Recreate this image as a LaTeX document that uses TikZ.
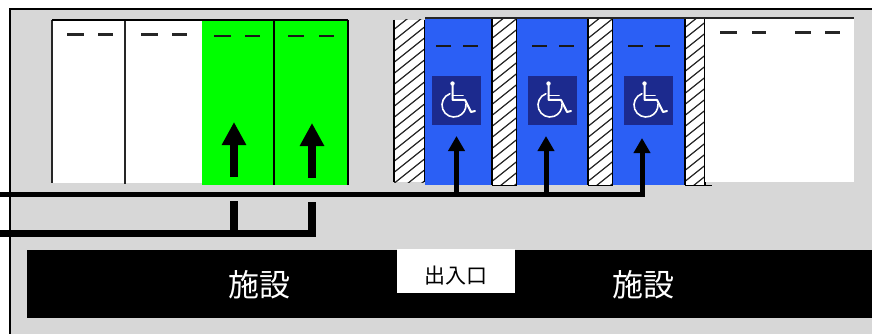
\documentclass[tikz,border=0pt]{standalone}
\usepackage{fontspec}
\newfontfamily\cjk{Noto Sans CJK JP}
\usetikzlibrary{arrows.meta}
\definecolor{bggray}{HTML}{D7D7D7}
\definecolor{pgreen}{HTML}{00FF00}
\definecolor{pblue}{HTML}{2B5FF5}
\definecolor{signblue}{HTML}{1C2A8E}
\tikzset{
  x=1pt,y=-1pt,
  bay/.style={rectangle,inner sep=0pt,outer sep=0pt,anchor=north west},
  divider/.style={line width=1.5pt,black!85},
  bigarrow/.style={line width=8pt,black,-{Triangle[length=23pt,width=23pt]}},
  smallarrow/.style={line width=5pt,black,-{Triangle[length=15pt,width=16pt]}},
  feed/.style={line width=5pt,black},
  feedb/.style={line width=7pt,black},
  drop/.style={line width=8pt,black},
  chairline/.style={white,line width=1.6pt,line cap=round,line join=round},
}
\newcommand{\baybox}[6]{\node[bay,fill=#6,minimum width=#4pt-#2pt,minimum height=#5pt-#3pt] (#1) at (#2,#3) {};}
\newcommand{\hatchbox}[5]{%
  \node[bay,fill=white,minimum width=#4pt-#2pt,minimum height=#5pt-#3pt] (#1) at (#2,#3) {};
  \begin{scope}
    \clip (#2,#3) rectangle (#4,#5);
    \foreach \k in {-6,...,18}{
      \draw[black!85,line width=1.2pt] (#2-2,#3+\k*11) -- (#2+38,#3+\k*11-32);
    }
  \end{scope}
  \draw[black,line width=1.6pt] (#2,#3) -- (#2,#5) (#4,#3) -- (#4,#5);
}
\newcommand{\chair}[2]{%
  \node[bay,fill=signblue,minimum width=49pt,minimum height=49pt] (#1) at (#2,76) {};
  \begin{scope}[shift={(#2,76)}]
    \fill[white] (20.5,7.5) circle (2.2);
    \draw[chairline,line width=2pt] (20.5,8) -- (20.5,24) -- (33,24) -- (39,36) -- (43,35);
    \draw[chairline] (20.5,19.5) -- (31,19.5);
    \draw[chairline] (22,29) ++(250:12) arc[start angle=250,end angle=-5,radius=12];
  \end{scope}
}
\begin{document}
\begin{tikzpicture}
\useasboundingbox (0,0) rectangle (872,334);
\fill[white] (0,0) rectangle (872,334);
\fill[bggray] (10,9) rectangle (872,334);
\draw[black,line width=1.2pt] (872,9) -- (10,9) -- (10,334);

% left white and green bays
\baybox{wa}{52}{20}{125}{183}{white}
\baybox{wb}{125}{20}{202}{183}{white}
\baybox{ga}{202}{20}{274}{185}{pgreen}
\baybox{gb}{274}{20}{348}{185}{pgreen}
\draw[divider] (52,20) -- (52,183);
\draw[divider] (125,20) -- (125,184);
\draw[black,line width=1.5pt] (274,20) -- (274,185);
\draw[black,line width=1.2pt] (348,20) -- (348,185);
\draw[black,line width=1.8pt] (52,20) -- (348,20);
\foreach \a/\b in {67/84,98/113,141/158,172/187}
  \draw[black!85,line width=3pt] (\a,35) -- (\b,35);
\foreach \a/\b in {214/231,245/260,288/304,319/334}
  \draw[black!90,line width=1.5pt] (\a,36) -- (\b,36);

% right bays
\hatchbox{ha}{394}{20}{425}{182}
\baybox{ba}{425}{18}{492}{185}{pblue}
\hatchbox{hb}{492}{18}{517}{185}
\baybox{bb}{517}{18}{588}{185}{pblue}
\hatchbox{hc}{588}{18}{613}{185}
\baybox{bc}{613}{18}{685}{185}{pblue}
\hatchbox{hd}{685}{18}{705}{185}
\baybox{wc}{705}{19}{854}{182}{white}
\draw[black!85,line width=1.2pt] (425,18) -- (854,18);
\draw[black,line width=1pt] (492,185) -- (517,185) (588,185) -- (613,185) (685,185) -- (712,185);
\foreach \a/\b in {436/451,463/478,532/547,559/574,628/643,655/670}
  \draw[black!90,line width=1.5pt] (\a,46) -- (\b,46);
\foreach \a/\b in {720/737,752/766,795/811,825/840}
  \draw[black!85,line width=3pt] (\a,33) -- (\b,33);

% accessible signs
\chair{sa}{432}
\chair{sb}{528}
\chair{sc}{624}

% connectors
\coordinate (la) at (0,194);
\coordinate (lb) at (0,233.5);
\coordinate (ja) at (456.5,194);
\coordinate (jb) at (546,194);
\coordinate (jc) at (642,194);
\coordinate (ta) at (456.5,136);
\coordinate (tb) at (546,136);
\coordinate (tc) at (642,138);
\coordinate (da) at (234,201);
\coordinate (db) at (312,202);
\coordinate (ea) at (234,233.5);
\coordinate (eb) at (312,237);
\coordinate (ga1) at (234,177);
\coordinate (ga2) at (234,122);
\coordinate (gb1) at (312,178);
\coordinate (gb2) at (312,123);
\coordinate (lend) at (644.5,194);
\coordinate (bend) at (316,233.5);

\draw[bigarrow] (ga1) -- (ga2);
\draw[bigarrow] (gb1) -- (gb2);
\draw[smallarrow] (ja) -- (ta);
\draw[smallarrow] (jb) -- (tb);
\draw[smallarrow] (jc) -- (tc);
\draw[feed] (la) -- (lend);
\draw[feedb] (lb) -- (bend);
\draw[drop] (da) -- (ea);
\draw[drop] (db) -- (eb);

% building
\node[bay,fill=black,minimum width=845pt,minimum height=68pt] (building) at (27,250) {};
\node[bay,fill=white,minimum width=118pt,minimum height=44pt] (entrance) at (397,249) {};
\node[white,font=\cjk\fontsize{31}{31}\selectfont,inner sep=0pt] (fa) at (259,285) {施設};
\node[white,font=\cjk\fontsize{31}{31}\selectfont,inner sep=0pt] (fb) at (643,285) {施設};
\node[black,font=\cjk\fontsize{21}{21}\selectfont,inner sep=0pt] (door) at (456,276) {出入口};
\end{tikzpicture}
\end{document}
